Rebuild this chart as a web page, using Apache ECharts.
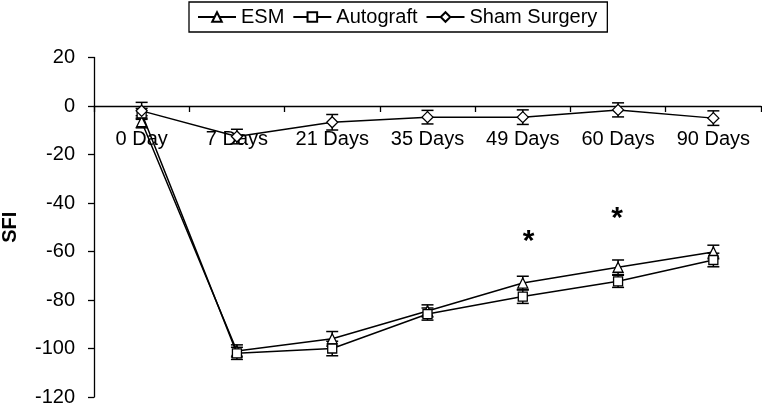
<!DOCTYPE html>
<html>
<head>
<meta charset="utf-8">
<script src="https://cdn.jsdelivr.net/npm/echarts@6/dist/echarts.min.js"></script>
<style>
html,body{margin:0;padding:0;background:#fff;}
#chart{width:762px;height:406px;}
</style>
</head>
<body>
<div id="chart"></div>
<script>
var categories = ['0 Day', '7 Days', '21 Days', '35 Days', '49 Days', '60 Days', '90 Days'];
var esmValues = [-6.5, -101, -96, -84.5, -73, -66.5, -60.2];
var esmErr = [2.5, 2.5, 3, 2.5, 2.8, 3, 2.8];
var autoValues = [-3, -102, -100, -85.8, -78.6, -72.3, -63.5];
var autoErr = [2, 2.5, 3, 2.5, 2.8, 2.5, 2.8];
var shamValues = [-2, -12.6, -6.7, -4.6, -4.6, -1.6, -5];
var shamErr = [3.5, 3, 3.2, 2.8, 3, 2.9, 3];
var asteriskX = [4.06, 4.99];
var asteriskY = [-54, -44.5];
var yTicks = {min: -120, max: 20, interval: 20};

var FONT = 'Liberation Sans, Arial, sans-serif';

function errData(vals, errs) {
  return vals.map(function (v, i) { return [i, v - errs[i], v + errs[i]]; });
}

function errSeries(vals, errs, z) {
  return {
    type: 'custom',
    xAxisIndex: 0, yAxisIndex: 0,
    z: z,
    silent: true,
    data: errData(vals, errs),
    encode: {x: 0, y: [1, 2]},
    renderItem: function (params, api) {
      var x = api.value(0);
      var pLo = api.coord([x, api.value(1)]);
      var pHi = api.coord([x, api.value(2)]);
      var w = 6;
      var st = {stroke: '#000', lineWidth: 1.5};
      return {
        type: 'group',
        children: [
          {type: 'line', shape: {x1: pHi[0], y1: pHi[1], x2: pLo[0], y2: pLo[1]}, style: st},
          {type: 'line', shape: {x1: pHi[0] - w, y1: pHi[1], x2: pHi[0] + w, y2: pHi[1]}, style: st},
          {type: 'line', shape: {x1: pLo[0] - w, y1: pLo[1], x2: pLo[0] + w, y2: pLo[1]}, style: st}
        ]
      };
    }
  };
}

function lineSeries(name, vals, symbol, size, z) {
  return {
    name: name,
    type: 'line',
    xAxisIndex: 0, yAxisIndex: 0,
    data: vals,
    symbol: symbol,
    symbolSize: size,
    showAllSymbol: true,
    z: z,
    lineStyle: {color: '#000', width: 1.5},
    itemStyle: {color: '#fff', borderColor: '#000', borderWidth: 1.3},
    emphasis: {disabled: true}
  };
}

var chart = echarts.init(document.getElementById('chart'), null, {renderer: 'canvas'});
chart.setOption({
  animation: false,
  backgroundColor: '#fff',
  textStyle: {fontFamily: FONT, color: '#000'},
  legend: {
    left: 189, top: 2,
    data: ['ESM', 'Autograft', 'Sham Surgery'],
    borderColor: '#000', borderWidth: 1.3,
    padding: [5, 10, 5, 8],
    itemGap: 8,
    itemWidth: 38, itemHeight: 12,
    textStyle: {fontFamily: FONT, fontSize: 20, color: '#000'}
  },
  grid: [
    {left: 94, right: 1, top: 57.5, bottom: 9, containLabel: false, outerBoundsMode: 'none'},
    {left: 94, right: 1, top: 57.5, height: 48.5, containLabel: false, outerBoundsMode: 'none'}
  ],
  xAxis: [{
    type: 'category',
    gridIndex: 0,
    data: categories,
    boundaryGap: true,
    show: false
  }, {
    type: 'category',
    gridIndex: 1,
    data: categories,
    boundaryGap: true,
    position: 'bottom',
    axisLine: {onZero: false, lineStyle: {color: '#000', width: 1.3}},
    axisTick: {show: true, length: 6, inside: false, lineStyle: {color: '#000', width: 1.3}},
    axisLabel: {show: true, fontFamily: FONT, fontSize: 20, color: '#000', margin: 23, interval: 0},
    splitLine: {show: false}
  }, {
    type: 'value',
    gridIndex: 0,
    min: -0.5, max: 6.5,
    show: false
  }],
  yAxis: [{
    type: 'value',
    gridIndex: 0,
    min: yTicks.min, max: yTicks.max, interval: yTicks.interval,
    name: 'SFI',
    nameLocation: 'middle',
    nameRotate: 90,
    nameGap: 74,
    nameTextStyle: {fontFamily: FONT, fontSize: 20, fontWeight: 'bold', color: '#000'},
    axisLine: {show: true, onZero: false, lineStyle: {color: '#000', width: 1.3}},
    axisTick: {show: true, length: 6, lineStyle: {color: '#000', width: 1.3}},
    axisLabel: {fontFamily: FONT, fontSize: 20, color: '#000', margin: 19},
    splitLine: {show: false}
  }, {
    type: 'value',
    gridIndex: 1,
    min: 0, max: 20,
    show: false
  }],
  series: [
    errSeries(esmValues, esmErr, 2),
    errSeries(autoValues, autoErr, 2),
    errSeries(shamValues, shamErr, 2),
    lineSeries('ESM', esmValues, 'triangle', 10, 3),
    lineSeries('Autograft', autoValues, 'rect', 9, 4),
    lineSeries('Sham Surgery', shamValues, 'diamond', 11, 5),
    {
      type: 'custom',
      xAxisIndex: 2, yAxisIndex: 0,
      silent: true,
      z: 6,
      data: asteriskX.map(function (x, i) { return [x, asteriskY[i]]; }),
      renderItem: function (params, api) {
        var p = api.coord([api.value(0), api.value(1)]);
        return {
          type: 'text',
          x: p[0], y: p[1] + 5,
          style: {
            text: '*', fill: '#000',
            font: 'bold 30px ' + FONT,
            align: 'center', verticalAlign: 'middle'
          }
        };
      }
    }
  ]
});
</script>
</body>
</html>
